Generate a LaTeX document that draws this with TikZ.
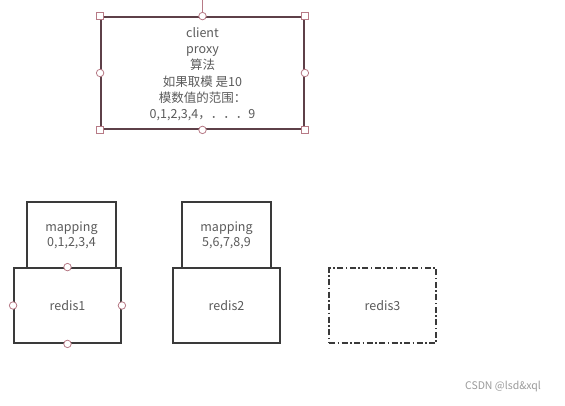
\documentclass[tikz,border=0pt]{standalone}
\usepackage{fontspec}
\setmainfont{Noto Sans CJK SC}
\usetikzlibrary{positioning}
\definecolor{BoxLine}{HTML}{3A3A3A}
\definecolor{ProxyLine}{HTML}{5E4048}
\definecolor{HandleLine}{HTML}{B77A86}
\definecolor{LabelGray}{HTML}{5A5A5A}
\definecolor{MarkGray}{HTML}{9A9A9A}

\begin{document}
\begin{tikzpicture}[
    x=1pt,y=-1pt,
    box/.style={
      draw=BoxLine,
      line width=1.8pt,
      inner sep=0pt,
      align=center,
      text=LabelGray,
      font=\fontsize{12.5}{15}\selectfont
    },
    proxybox/.style={
      box,
      draw=ProxyLine,
      minimum width=203pt,
      minimum height=112pt,
      font=\fontsize{12.5}{16.3}\selectfont
    },
    mapbox/.style={box,minimum width=89pt,minimum height=66pt},
    redisbox/.style={box,minimum width=107pt,minimum height=75pt},
    spare/.style={redisbox,dash pattern=on 6pt off 2.5pt on 1.5pt off 2.5pt},
    hdlc/.style={circle,draw=HandleLine,fill=white,line width=0.8pt,
      inner sep=0pt,minimum size=7.5pt},
    hdls/.style={rectangle,draw=HandleLine,fill=white,line width=0.8pt,
      inner sep=0pt,minimum size=7pt}
  ]
    \useasboundingbox (0,0) rectangle (565,405);
    \coordinate (top) at (202.5,0);
    \node[proxybox,text depth=-3pt] (proxy) at (202.5,73) {client\\proxy\\算法\\如果取模 是10\\模数值的范围：\\0,1,2,3,4，．．．9};
    \draw[HandleLine,line width=0.8pt] (top) -- (proxy.north);
    \node[redisbox] (redis1) at (67.5,305.5) {redis1};
    \node[mapbox] (map1) at (71.5,235) {mapping\\0,1,2,3,4};
    \node[redisbox] (redis2) at (226.5,305.5) {redis2};
    \node[mapbox] (map2) at (226.5,235) {mapping\\5,6,7,8,9};
    \node[spare] (redis3) at (382.5,305.5) {redis3};
    % selection handles
    \foreach \a in {north,south,east,west}
      \node[hdlc] (p\a) at (proxy.\a) {};
    \foreach \a in {north east,north west,south east,south west}
      \node[hdls] (p\a) at (proxy.\a) {};
    \foreach \a in {north,south,east,west}
      \node[hdlc] (r\a) at (redis1.\a) {};
    \node[text=MarkGray,font=\fontsize{10.5}{12}\selectfont] (mark) at (503,387) {CSDN @lsd\&xql};
  \end{tikzpicture}
\end{document}
